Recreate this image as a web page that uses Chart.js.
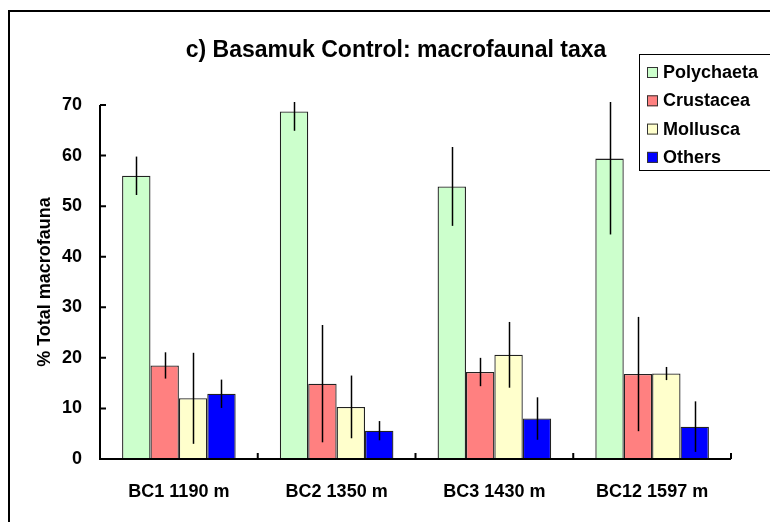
<!DOCTYPE html>
<html>
<head>
<meta charset="utf-8">
<script src="https://cdn.jsdelivr.net/npm/chart.js@4/dist/chart.umd.min.js"></script>
<style>
  body { margin: 0; background: #fff; }
  #wrap { width: 770px; height: 522px; }
</style>
</head>
<body>
<div id="wrap"><canvas id="taxa" width="770" height="522"></canvas></div>
<script>
const stations = ['BC1 1190 m', 'BC2 1350 m', 'BC3 1430 m', 'BC12 1597 m'];
const taxa = ['Polychaeta', 'Crustacea', 'Mollusca', 'Others'];
const colours = ['#CCFFCC', '#FF8080', '#FFFFCC', '#0000FF'];
const yTicks = [0, 10, 20, 30, 40, 50, 60, 70];

// mean % of total macrofauna per station
const polychaeta = [56.0, 68.7, 53.9, 59.4];
const crustacea  = [18.5, 14.9, 17.2, 16.8];
const mollusca   = [12.0, 10.3, 20.6, 16.9];
const others     = [12.9, 5.6, 8.0, 6.4];

// +/- error per station
const polychaetaErr = [3.8, 3.8, 7.8, 15.0];
const crustaceaErr  = [2.6, 11.6, 2.8, 11.3];
const molluscaErr   = [9.0, 6.2, 6.5, 1.3];
const othersErr     = [2.8, 1.9, 4.2, 5.0];

const values = [polychaeta, crustacea, mollusca, others];
const errors = [polychaetaErr, crustaceaErr, molluscaErr, othersErr];

const FONT = '"Liberation Sans", Arial, sans-serif';

// white page with the frame line along the top and left, plus the title
const framePlugin = {
  id: 'frame',
  beforeDraw(chart) {
    const ctx = chart.ctx;
    ctx.save();
    ctx.fillStyle = '#fff';
    ctx.fillRect(0, 0, chart.width, chart.height);
    ctx.strokeStyle = '#000';
    ctx.lineWidth = 2;
    ctx.strokeRect(9, 11, chart.width + 20, chart.height + 20);

    ctx.fillStyle = '#000';
    ctx.font = 'bold 23px ' + FONT;
    ctx.textAlign = 'center';
    ctx.textBaseline = 'alphabetic';
    ctx.fillText('c) Basamuk Control: macrofaunal taxa', 396, 57);
    ctx.restore();
  }
};

// error bars, axis lines with inside ticks, and the legend box
const overlayPlugin = {
  id: 'overlay',
  afterDatasetsDraw(chart) {
    const ctx = chart.ctx;
    const x = chart.scales.x;
    const y = chart.scales.y;
    const area = chart.chartArea;

    // error bars stop at the top of the plot area
    ctx.save();
    ctx.beginPath();
    ctx.rect(area.left, area.top - 3, area.right - area.left, area.bottom - area.top + 3);
    ctx.clip();
    ctx.strokeStyle = '#000';
    ctx.lineWidth = 1.5;
    chart.data.datasets.forEach((ds, i) => {
      const meta = chart.getDatasetMeta(i);
      meta.data.forEach((bar, j) => {
        const v = ds.data[j];
        const e = errors[i][j];
        ctx.beginPath();
        ctx.moveTo(Math.round(bar.x) + 0.5, y.getPixelForValue(v + e));
        ctx.lineTo(Math.round(bar.x) + 0.5, y.getPixelForValue(Math.max(0, v - e)));
        ctx.stroke();
      });
    });
    ctx.restore();

    ctx.save();
    // axes
    ctx.strokeStyle = '#000';
    ctx.lineWidth = 2;
    ctx.beginPath();
    ctx.moveTo(area.left, y.getPixelForValue(70));
    ctx.lineTo(area.left, area.bottom);
    ctx.lineTo(area.right, area.bottom);
    yTicks.forEach(t => {
      const py = y.getPixelForValue(t);
      ctx.moveTo(area.left, py);
      ctx.lineTo(area.left + 6, py);
    });
    for (let i = 0; i < stations.length; i++) {
      const px = i < stations.length - 1
        ? (x.getPixelForValue(i) + x.getPixelForValue(i + 1)) / 2
        : area.right;
      ctx.moveTo(px, area.bottom);
      ctx.lineTo(px, area.bottom - 6);
    }
    ctx.stroke();

    // legend
    ctx.lineWidth = 1;
    ctx.strokeRect(639.5, 54.5, 140, 116);
    ctx.font = 'bold 18px ' + FONT;
    ctx.textAlign = 'left';
    ctx.textBaseline = 'middle';
    chart.data.datasets.forEach((ds, i) => {
      const cy = 72 + i * 28.3;
      ctx.fillStyle = ds.backgroundColor;
      ctx.fillRect(647, cy - 5, 11, 11);
      ctx.strokeStyle = '#333';
      ctx.strokeRect(647.5, cy - 4.5, 10, 10);
      ctx.fillStyle = '#000';
      ctx.fillText(ds.label, 663, cy + 1);
    });
    ctx.restore();
  }
};

new Chart(document.getElementById('taxa'), {
  type: 'bar',
  data: {
    labels: stations,
    datasets: taxa.map((name, i) => ({
      label: name,
      data: values[i],
      backgroundColor: colours[i],
      borderColor: '#222',
      borderWidth: 1.3,
      categoryPercentage: 0.72,
      barPercentage: 1.0
    }))
  },
  options: {
    responsive: false,
    animation: false,
    layout: { padding: { top: 105, right: 39, left: 0, bottom: 0 } },
    plugins: {
      legend: { display: false },
      title: { display: false },
      tooltip: { enabled: false }
    },
    scales: {
      x: {
        grid: { display: false, drawTicks: false },
        border: { display: false },
        ticks: {
          color: '#000',
          padding: 22,
          maxRotation: 0,
          font: { family: FONT, size: 18, weight: 'bold' }
        },
        afterFit(scale) { scale.height = 63; }
      },
      y: {
        min: 0,
        max: 70,
        afterBuildTicks(scale) { scale.ticks = yTicks.map(v => ({ value: v })); },
        grid: { display: false, drawTicks: false },
        border: { display: false },
        ticks: {
          color: '#000',
          padding: 18,
          font: { family: FONT, size: 18, weight: 'bold' }
        },
        title: {
          display: true,
          text: '% Total macrofauna',
          color: '#000',
          padding: { top: 34, bottom: 0 },
          font: { family: FONT, size: 18, weight: 'bold' }
        },
        afterFit(scale) { scale.width = 100; }
      }
    }
  },
  plugins: [framePlugin, overlayPlugin]
});
</script>
</body>
</html>
